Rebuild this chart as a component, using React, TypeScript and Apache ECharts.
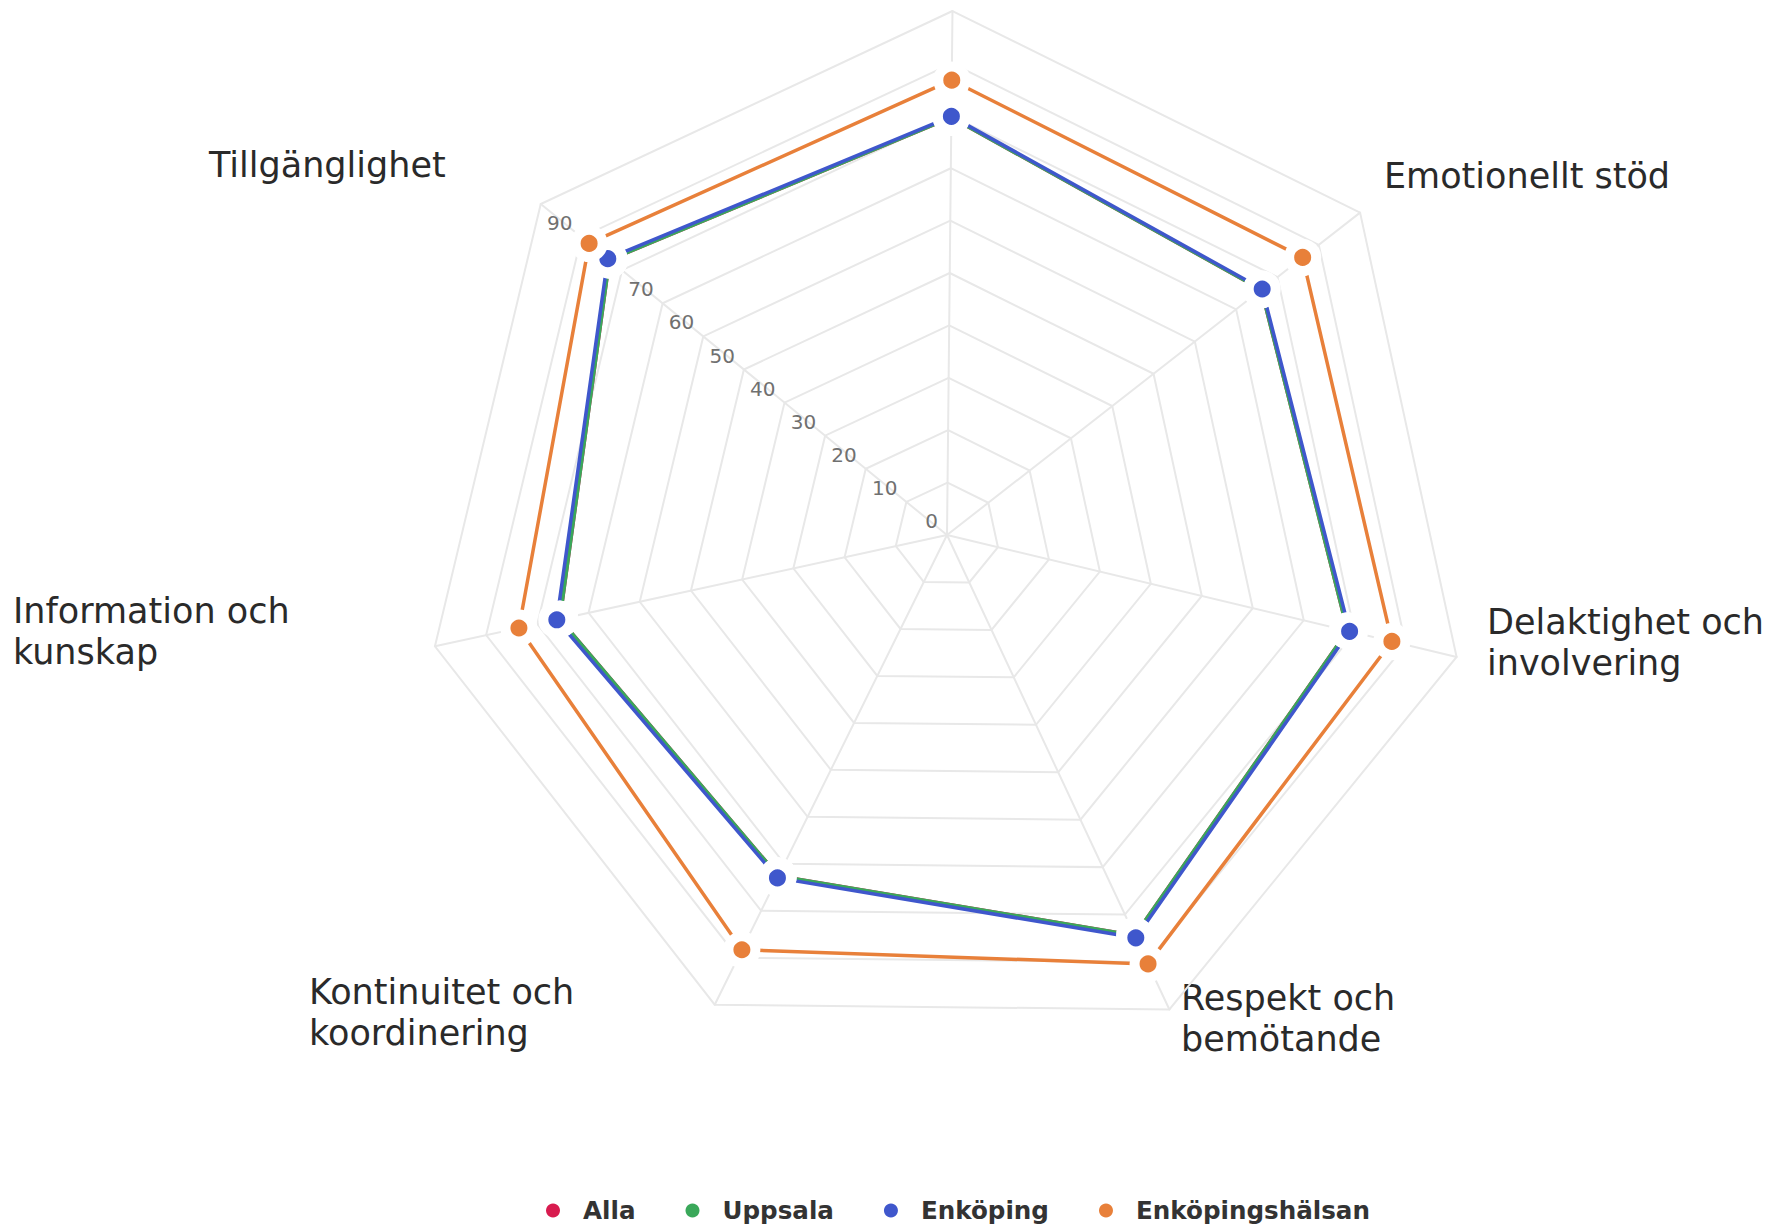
import React, { useEffect, useRef } from "react";
import * as echarts from "echarts";

// Indicators, counter-clockwise from the top (ECharts radar order)
const indicatorNames = [
  "",
  "Tillgänglighet",
  "Information och kunskap",
  "Kontinuitet och koordinering",
  "Respekt och bemötande",
  "Delaktighet och involvering",
  "Emotionellt stöd",
];
const indicatorMax = 100;

const seriesNames = ["Alla", "Uppsala", "Enköping", "Enköpingshälsan"];
const seriesColors = ["#d81b4f", "#3aa85a", "#3f57cc", "#e8803a"];

const alla = [79.7, 83.1, 75.6, 72.6, 84.4, 78.6, 76.1];
const uppsala = [79.7, 83.1, 75.6, 72.6, 84.4, 78.6, 76.1];
const enkoping = [79.9, 83.5, 76.2, 73.0, 84.9, 79.0, 76.3];
const enkopingshalsan = [86.8, 88.1, 83.6, 88.3, 90.4, 87.3, 86.1];

const seriesValues = [alla, uppsala, enkoping, enkopingshalsan];

// Indicator name labels (drawn as text), in display position
const nameLabels = [
  { text: "Tillgänglighet", x: 209, y: 144 },
  { text: "Emotionellt stöd", x: 1384, y: 155 },
  { text: "Delaktighet och\ninvolvering", x: 1487, y: 601 },
  { text: "Respekt och\nbemötande", x: 1181, y: 977 },
  { text: "Kontinuitet och\nkoordinering", x: 309, y: 971 },
  { text: "Information och\nkunskap", x: 13, y: 590 },
];

export default function App() {
  const ref = useRef<HTMLDivElement>(null);
  useEffect(() => {
    document.body.style.margin = "0";
    const chart = echarts.init(ref.current!, null, { renderer: "svg" });
    const option: any = {
      animation: false,
      backgroundColor: "#ffffff",
      color: seriesColors,
      legend: {
        data: seriesNames,
        icon: "circle",
        left: 541,
        top: 1193,
        itemWidth: 50,
        itemHeight: 14,
        itemGap: 50,
        itemStyle: { borderWidth: 0 },
        textStyle: {
          fontFamily: "DejaVu Sans",
          fontWeight: "bold",
          fontSize: 24.6,
          color: "#333333",
        },
      },
      radar: {
        center: [947, 535],
        radius: 524,
        startAngle: 89.4,
        splitNumber: 10,
        shape: "polygon",
        axisName: { show: false },
        splitLine: { lineStyle: { color: "#e8e8e8", width: 2 } },
        splitArea: { show: false },
        axisLine: { lineStyle: { color: "#e8e8e8", width: 2 } },
        axisTick: { show: false },
        axisLabel: { show: false },
        indicator: indicatorNames.map((name, i) => {
          const ind: any = { name, max: indicatorMax, min: 0 };
          if (i === 1) {
            ind.axisLabel = {
              show: true,
              fontFamily: "DejaVu Sans",
              fontSize: 20,
              lineHeight: 28,
              color: "#707070",
              align: "right",
              verticalAlign: "bottom",
              margin: 0,
              padding: [0, 9, 0, 0],
              formatter: (v: number) => (v >= indicatorMax ? "" : String(v)),
            };
          }
          return ind;
        }),
      },
      series: [
        {
          type: "radar",
          symbol: "circle",
          symbolSize: 27,
          data: seriesNames.map((name, i) => ({
            name,
            value: seriesValues[i],
            itemStyle: {
              color: seriesColors[i],
              borderColor: "#ffffff",
              borderWidth: 10,
            },
            lineStyle: { color: seriesColors[i], width: 3.5 },
          })),
        },
      ],
      graphic: nameLabels.map((n) => ({
        type: "text",
        x: n.x,
        y: n.y,
        style: {
          text: n.text,
          fontFamily: "DejaVu Sans",
          fontSize: 35,
          lineHeight: 41,
          fill: "#2a2a2a",
          align: "left",
          verticalAlign: "top",
        },
      })),
    };
    chart.setOption(option);
    return () => chart.dispose();
  }, []);
  return <div ref={ref} style={{ width: 1773, height: 1225 }} />;
}
